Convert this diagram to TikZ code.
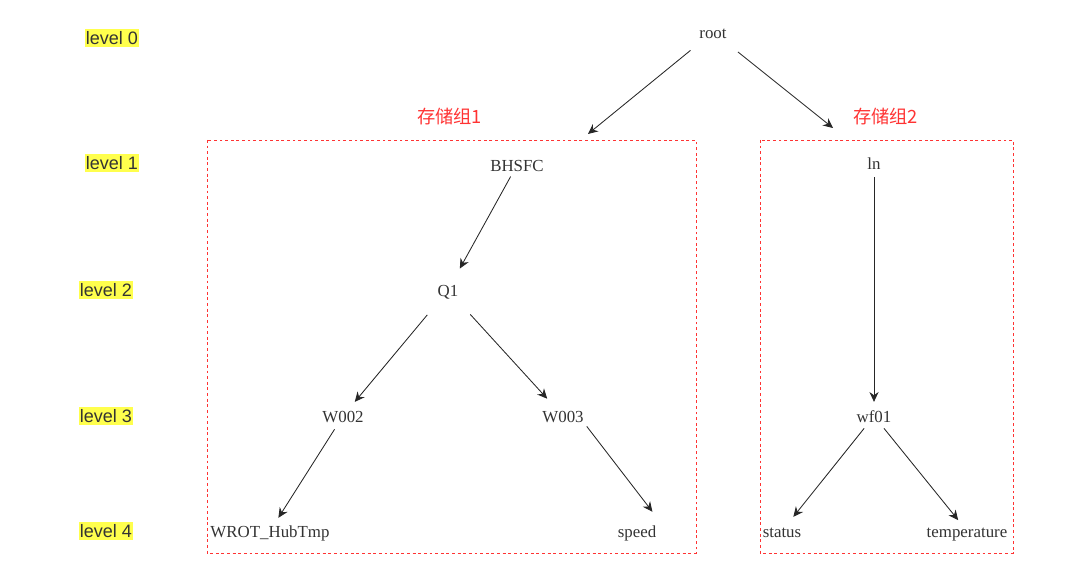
\documentclass[tikz,border=0pt]{standalone}
\usepackage{fontspec}
\setmainfont{Liberation Serif}
\newfontfamily\lvlfont{Liberation Sans}
\newfontfamily\cjk{Noto Sans CJK SC}
\usetikzlibrary{arrows.meta, positioning}

\definecolor{grpred}{RGB}{255,51,51}
\definecolor{lvlyellow}{RGB}{255,255,77}

\begin{document}
\begin{tikzpicture}[x=0.025cm, y=-0.025cm,
    every node/.style={inner sep=2pt},
    item/.style={font=\fontsize{12}{14}\selectfont, text=black!80, text height=10pt, text depth=0.3pt},
    lvl/.style={font=\lvlfont\fontsize{12.8}{15}\selectfont, fill=lvlyellow, text=black!80, inner xsep=0.5pt, inner ysep=1.5pt},
    grp/.style={draw=grpred, dash pattern=on 2pt off 2pt, line width=0.6pt},
    grplabel/.style={font=\cjk\fontsize{13}{15}\selectfont, text=grpred},
    link/.style={-{Stealth[length=7pt,width=6.5pt]}, draw=black!85, line width=0.6pt, shorten <=2pt, shorten >=2pt}]

    \useasboundingbox (0,0) rectangle (1080,578);

    % level labels on the left
    \foreach \x/\y/\n in {112/38/0, 112/163/1, 106/290/2, 106/416/3, 106/531/4} {
        \node[lvl] (lvl\n) at (\x,\y) {level \n};
    }

    % storage groups
    \draw[grp] (207,140) rectangle (696,553);
    \draw[grp] (760,140) rectangle (1013,553);
    \node[grplabel] (grp1) at (449.5,117) {存储组1};
    \node[grplabel] (grp2) at (885.5,117) {存储组2};
    \coordinate (g1) at (588,134);
    \coordinate (g2) at (833,128);

    % tree
    \node[item] (root) at (713,32) {root};

    \node[item] (bhsfc) at (517,165) {BHSFC};
    \node[item] (q1) at (448,290) {Q1};
    \node[item] (w002) at (343,416) {W002};
    \node[item] (w003) at (563,416) {W003};
    \node[item] (wrot) at (270,531) {WROT\_HubTmp};
    \node[item] (speed) at (637,531) {speed};

    \node[item] (ln) at (874,163) {ln};
    \node[item] (wf01) at (874,416) {wf01};
    \node[item] (status) at (782,531) {status};
    \node[item] (temp) at (967,531) {temperature};

    \draw[link, shorten <=9pt, shorten >=0pt] (root) -- (g1);
    \draw[link, shorten <=11pt, shorten >=0pt] (root) -- (g2);

    \draw[link, shorten <=1pt, shorten >=9pt] (bhsfc) -- (q1);
    \draw[link, shorten <=13.5pt, shorten >=3.5pt] (q1) -- (w002);
    \draw[link, shorten <=13.5pt, shorten >=6.7pt] (q1) -- (w003);
    \draw[link, shorten <=2.5pt, shorten >=2.4pt] (w002) -- (wrot);
    \draw[link, shorten <=0pt, shorten >=8pt] (w003.south east) -- (speed.north east);

    \draw[link, shorten <=2.7pt, shorten >=2.7pt] (ln) -- (wf01);
    \draw[link, shorten <=1.8pt, shorten >=3.5pt] (wf01) -- (status);
    \draw[link, shorten <=1.8pt, shorten >=0.5pt] (wf01) -- (temp);

\end{tikzpicture}
\end{document}
